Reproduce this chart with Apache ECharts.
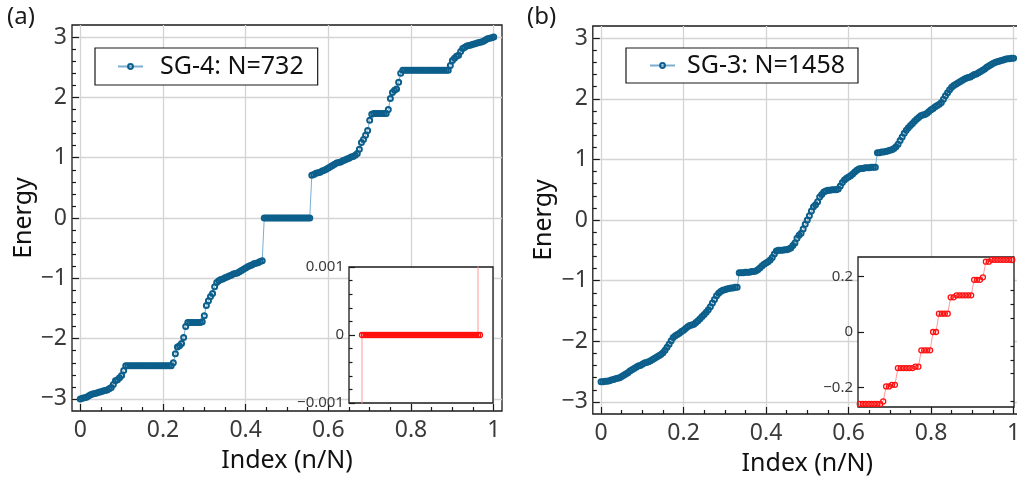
<!DOCTYPE html>
<html><head><meta charset="utf-8">
<script src="https://cdn.jsdelivr.net/npm/echarts@6/dist/echarts.min.js"></script>
<style>html,body{margin:0;padding:0;background:#fff}#c{width:1017px;height:482px}</style>
</head><body><div id="c"></div><script>
const FONT = "'Noto Sans', 'DejaVu Sans', sans-serif";

// tick labels
const xTicks = [0, 0.2, 0.4, 0.6, 0.8, 1];
const yTicks = [-3, -2, -1, 0, 1, 2, 3];
const insetATicks = [-0.001, 0, 0.001];
const insetBTicks = [-0.2, 0, 0.2];
const insetBMinor = [-0.25, -0.15, -0.1, -0.05, 0.05, 0.1, 0.15, 0.25];

// series names
const nameA = 'SG-4: N=732';
const nameB = 'SG-3: N=1458';

// panel (a) energies, sampled at n/N = 0, 0.005, ..., 1
const yA = [
 -3.00,-2.99,-2.98,-2.97,-2.95,-2.93,-2.92,-2.91,-2.90,-2.89,
 -2.88,-2.87,-2.86,-2.85,-2.83,-2.81,-2.76,-2.70,-2.68,-2.65,
 -2.61,-2.53,
 -2.449,-2.449,-2.449,-2.449,-2.449,-2.449,-2.449,-2.449,-2.449,-2.449,-2.449,-2.449,
 -2.449,-2.449,-2.449,-2.449,-2.449,-2.449,-2.449,-2.449,-2.449,-2.449,-2.449,
 -2.40,-2.25,-2.14,-2.12,-2.08,-1.98,-1.80,
 -1.732,-1.732,-1.732,-1.732,-1.732,-1.732,-1.732,
 -1.72,-1.62,-1.45,-1.37,-1.30,-1.25,-1.14,-1.07,-1.04,
 -1.02,-1.01,-0.99,-0.98,-0.96,-0.95,-0.93,-0.92,-0.91,-0.89,-0.87,
 -0.85,-0.83,-0.81,-0.79,-0.78,-0.76,-0.75,-0.74,-0.72,-0.71,
 0,0,0,0,0,0,0,0,0,0,0,0,0,0,0,0,0,0,0,0,0,0,0,
 0.71,0.72,0.74,0.75,0.76,0.78,0.79,0.81,0.83,0.85,0.87,
 0.89,0.91,0.92,0.93,0.95,0.96,0.98,0.99,1.01,1.02,
 1.04,1.07,1.14,1.25,1.30,1.37,1.45,1.62,1.72,
 1.732,1.732,1.732,1.732,1.732,1.732,1.732,
 1.80,1.98,2.08,2.12,2.14,2.25,2.40,
 2.449,2.449,2.449,2.449,2.449,2.449,2.449,2.449,2.449,2.449,2.449,2.449,
 2.449,2.449,2.449,2.449,2.449,2.449,2.449,2.449,2.449,2.449,2.449,
 2.53,2.61,
 2.65,2.68,2.70,2.76,2.81,2.83,2.85,2.86,2.87,2.88,
 2.89,2.90,2.91,2.92,2.93,2.95,2.97,2.98,2.99,3.00
];

// panel (b) energies, sampled at n/N = 0, 0.005, ..., 1
const yB = [
 -2.67,-2.67,-2.66,-2.66,-2.65,-2.64,-2.63,-2.62,-2.61,-2.60,
 -2.58,-2.56,-2.54,-2.52,-2.49,-2.47,-2.45,-2.43,-2.41,-2.40,
 -2.38,-2.36,-2.35,-2.34,-2.32,-2.30,-2.28,-2.26,-2.24,-2.22,
 -2.19,-2.15,-2.10,-2.05,-1.99,-1.94,-1.91,-1.89,-1.87,-1.84,
 -1.82,-1.79,-1.76,-1.74,-1.73,-1.72,-1.69,-1.66,-1.63,-1.59,
 -1.56,-1.52,-1.48,-1.43,-1.37,-1.31,-1.25,-1.21,-1.18,-1.16,
 -1.15,-1.14,-1.13,-1.12,-1.12,-1.11,-1.11,
 -0.87,-0.87,-0.87,
 -0.86,-0.86,-0.86,-0.85,-0.85,-0.84,-0.82,-0.79,-0.76,-0.73,
 -0.71,-0.69,-0.66,-0.62,-0.56,-0.51,-0.50,-0.50,-0.50,-0.49,
 -0.49,-0.48,-0.46,-0.42,-0.38,-0.30,-0.25,-0.22,-0.15,-0.07,
 0.00,
 0.07,0.15,0.22,0.25,0.30,0.38,0.42,0.46,0.48,0.49,
 0.49,0.50,0.50,0.50,0.51,0.56,0.62,0.66,0.69,0.71,
 0.73,0.76,0.79,0.82,0.84,0.85,0.85,0.86,0.86,0.86,
 0.87,0.87,0.87,
 1.11,1.11,1.12,1.12,1.13,1.14,1.15,
 1.16,1.18,1.21,1.25,1.31,1.37,1.43,1.48,1.52,1.56,
 1.59,1.63,1.66,1.69,1.72,1.73,1.74,1.76,1.79,1.82,
 1.84,1.87,1.89,1.91,1.94,1.99,2.05,2.10,2.15,2.19,
 2.22,2.24,2.26,2.28,2.30,2.32,2.34,2.35,2.36,2.38,
 2.40,2.41,2.43,2.45,2.47,2.49,2.52,2.54,2.56,2.58,
 2.60,2.61,2.62,2.63,2.64,2.65,2.66,2.66,2.67,2.67
];

// inset (a): levels around the zero plateau
const insetA = [-0.71,
 0,0,0,0,0,0,0,0,0,0,0,0,0,0,0,0,0,0,0,0,
 0,0,0,0,0,0,0,0,0,0,0,0,0,0,0,0,0,0,0,0,
 0,0,0,0,0,0,0,0,0,0,0,0,0,0,0,0,0,0,0,0,
 0.71];

// inset (b): central levels
const insetB = [
 -0.259,-0.259,-0.259,-0.259,-0.259,-0.259,-0.259,-0.259,-0.25,
 -0.196,-0.196,-0.19,-0.19,
 -0.13,-0.13,-0.13,-0.13,-0.13,-0.13,-0.125,-0.125,
 -0.066,-0.066,-0.066,-0.066,
 0,0,
 0.066,0.066,0.066,0.066,
 0.125,0.125,0.132,0.132,0.132,0.132,0.132,0.132,
 0.188,0.188,0.188,0.197,
 0.253,0.253,0.26,0.26,0.26,0.26,0.26,0.26,0.26,0.26
];

function fmt(v) { return v < 0 ? '\u2212' + String(-v) : String(v); }
function minorList(lo, hi, step, major) {
  const out = [];
  for (let k = Math.ceil(lo / step - 1e-9); k * step <= hi + 1e-9; k++) {
    const v = Math.round(k * step * 1e6) / 1e6;
    if (Math.abs(v / major - Math.round(v / major)) > 1e-6 && v > lo + 1e-9 && v < hi - 1e-9) out.push(v);
  }
  return out;
}
const xMinor = minorList(-0.02, 1.02, 0.05, 0.2);
const yMinor = minorList(-3.2, 3.2, 0.2, 1);

const TICK = {color: '#1a1a1a', width: 1.2};
const LABEL = {color: '#3a3a3a', fontSize: 23, fontFamily: FONT};
const NAME = {color: '#111', fontSize: 25, fontFamily: FONT};
const GRIDLINE = {show: true, lineStyle: {color: '#d4d4d4', width: 1.3}};
const NOLINE = {show: false, onZero: false};

function mainAxes(g) {
  const xs = [
    {type: 'value', gridIndex: g, min: -0.02, max: 1.02, position: 'bottom',
     axisLine: NOLINE,
     axisTick: {show: true, inside: true, length: 7, customValues: xTicks, lineStyle: TICK},
     axisLabel: {show: true, customValues: xTicks, formatter: fmt, margin: 8, ...LABEL},
     splitLine: GRIDLINE,
     name: 'Index (n/N)', nameLocation: 'middle', nameGap: 37, nameTextStyle: NAME, nameMoveOverlap: false},
    {type: 'value', gridIndex: g, min: -0.02, max: 1.02, position: 'bottom',
     axisLine: NOLINE,
     axisTick: {show: true, inside: true, length: 4, customValues: xMinor, lineStyle: TICK},
     axisLabel: {show: false}, splitLine: {show: false}}
  ];
  const ys = [
    {type: 'value', gridIndex: g, min: -3.2, max: 3.2, position: 'left',
     axisLine: NOLINE,
     axisTick: {show: true, inside: true, length: 7, customValues: yTicks, lineStyle: TICK},
     axisLabel: {show: true, customValues: yTicks, formatter: fmt, margin: 5, ...LABEL},
     splitLine: GRIDLINE,
     name: 'Energy', nameLocation: 'middle', nameGap: 36, nameTextStyle: NAME, nameMoveOverlap: false},
    {type: 'value', gridIndex: g, min: -3.2, max: 3.2, position: 'left',
     axisLine: NOLINE,
     axisTick: {show: true, inside: true, length: 4, customValues: yMinor, lineStyle: TICK},
     axisLabel: {show: false}, splitLine: {show: false}}
  ];
  return {xs, ys};
}

const A = mainAxes(0), B = mainAxes(2);

const xAxis = [
  A.xs[0], A.xs[1],                                                       // 0,1
  {type: 'value', gridIndex: 1, min: -5.5, max: 66.5, show: false, axisLine: NOLINE}, // 2
  B.xs[0], B.xs[1],                                                       // 3,4
  {type: 'value', gridIndex: 3, min: -0.6, max: 52.6, show: false, axisLine: NOLINE}  // 5
];
const INSET_LABEL = {color: '#3a3a3a', fontSize: 15, fontFamily: FONT};
const yAxis = [
  A.ys[0], A.ys[1],                                             // 0,1
  {type: 'value', gridIndex: 1, min: -0.001, max: 0.001, interval: 0.001, z: 4,
   axisLine: NOLINE,
   axisTick: {show: true, inside: true, length: 6, lineStyle: TICK},
   minorTick: {show: true, splitNumber: 5, length: 3.5, lineStyle: TICK},
   axisLabel: {show: true, formatter: fmt, margin: 5, ...INSET_LABEL},
   splitLine: {show: false}},                                   // 2
  B.ys[0], B.ys[1],                                             // 3,4
  {type: 'value', gridIndex: 3, min: -0.27, max: 0.27, z: 4,
   axisLine: NOLINE,
   axisTick: {show: true, inside: true, length: 6, customValues: insetBTicks, lineStyle: TICK},
   axisLabel: {show: true, customValues: insetBTicks, formatter: fmt, margin: 5, ...INSET_LABEL},
   splitLine: {show: false}},                                   // 5
  {type: 'value', gridIndex: 3, min: -0.27, max: 0.27, z: 4,
   axisLine: NOLINE,
   axisTick: {show: true, inside: true, length: 3.5, customValues: insetBMinor, lineStyle: TICK},
   axisLabel: {show: false}, splitLine: {show: false}}          // 6
];

const FRAME = {show: true, borderColor: '#1a1a1a', borderWidth: 1.3, outerBoundsMode: 'none'};
const grid = [
  {left: 72, top: 25, width: 430, height: 386, backgroundColor: 'rgba(0,0,0,0)', ...FRAME},
  {left: 349, top: 267, width: 144, height: 136, backgroundColor: '#fff', z: 3, ...FRAME},
  {left: 592.8, top: 26, width: 429, height: 388, backgroundColor: 'rgba(0,0,0,0)', ...FRAME},
  {left: 858, top: 257, width: 156, height: 150, backgroundColor: '#fff', z: 3, ...FRAME}
];

function mainSeries(name, ys, xi, yi) {
  return {
    name, type: 'line', xAxisIndex: xi, yAxisIndex: yi,
    data: ys.map((v, i) => [i / (ys.length - 1), v]),
    symbol: 'circle', symbolSize: 5, showSymbol: true,
    itemStyle: {color: 'rgba(0,0,0,0)', borderColor: '#0c5f8b', borderWidth: 2},
    lineStyle: {color: '#7aafd0', width: 1},
    z: 2, silent: true, animation: false
  };
}
function insetSeries(name, ys, xi, yi, size) {
  return {
    name, type: 'line', xAxisIndex: xi, yAxisIndex: yi,
    data: ys.map((v, i) => [i, v]),
    symbol: 'circle', symbolSize: size, showSymbol: true, clip: true,
    itemStyle: {color: 'rgba(0,0,0,0)', borderColor: '#ff1010', borderWidth: 1.3},
    lineStyle: {color: '#ff9a9a', width: 1},
    z: 5, silent: true, animation: false
  };
}

const legendBase = {
  orient: 'horizontal', backgroundColor: '#fff', borderColor: '#1a1a1a', borderWidth: 1.2,
  borderRadius: 0, itemWidth: 25, itemHeight: 6, selectedMode: false, z: 6
};

const option = {
  animation: false,
  backgroundColor: '#fff',
  title: [
    {text: '(a)', left: 2, top: 0, textStyle: {fontSize: 24, fontWeight: 'normal', color: '#1a1a1a', fontFamily: FONT}},
    {text: '(b)', left: 522, top: 0, textStyle: {fontSize: 24, fontWeight: 'normal', color: '#1a1a1a', fontFamily: FONT}}
  ],
  legend: [
    {...legendBase, data: [nameA], left: 95, top: 48, padding: [6, 14, 6, 22],
     textStyle: {fontSize: 25, fontFamily: FONT, color: '#111', padding: [0, 0, 0, 12]}},
    {...legendBase, data: [nameB], left: 626, top: 48, padding: [5, 13, 5, 23],
     textStyle: {fontSize: 25, fontFamily: FONT, color: '#111', padding: [0, 0, 0, 7]}}
  ],
  grid, xAxis, yAxis,
  series: [
    mainSeries(nameA, yA, 0, 0),
    insetSeries('insetA', insetA, 2, 2, 5),
    mainSeries(nameB, yB, 3, 3),
    insetSeries('insetB', insetB, 5, 5, 5)
  ]
};

const chart = echarts.init(document.getElementById('c'), null, {renderer: 'canvas'});
chart.setOption(option);
</script></body></html>
